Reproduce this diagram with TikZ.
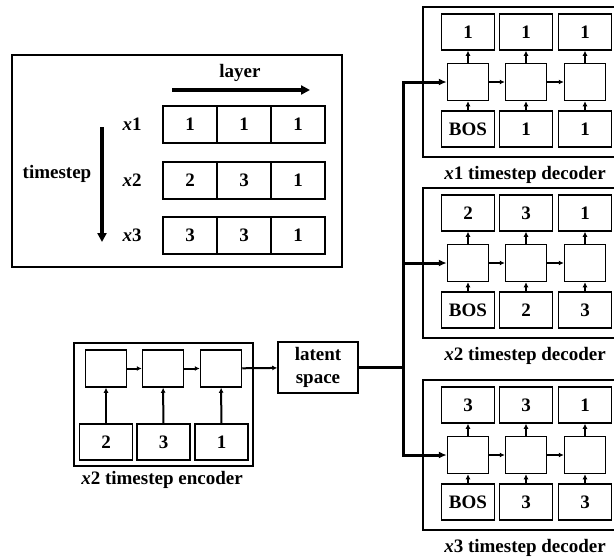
\documentclass[tikz,border=0pt]{standalone}
\usepackage{fontspec}
\setmainfont{Liberation Serif}
\usetikzlibrary{arrows.meta}

\begin{document}
\begin{tikzpicture}[x=1pt, y=-1pt,
  every node/.style={font=\fontsize{19}{23}\selectfont\bfseries},
  iobox/.style={draw, line width=1.5pt, minimum width=53pt, minimum height=36pt, inner sep=0pt},
  cell/.style={draw, line width=1.5pt, minimum width=41pt, minimum height=37pt, inner sep=0pt},
  gridbox/.style={draw, line width=1.5pt, minimum width=54pt, minimum height=37pt, inner sep=0pt},
  frame/.style={draw, line width=1.5pt},
  arr/.style={-{Latex[length=5pt, width=5pt]}, line width=2pt},
  bus/.style={line width=3pt},
  busarr/.style={bus, -{Latex[length=8pt, width=7pt]}},
  bigarr/.style={line width=3.2pt, -{Triangle[length=9pt, width=9pt]}}]
\useasboundingbox (0,0) rectangle (614,558);
\clip (0,0) rectangle (614,558);

% legend: layer / timestep table
\draw[line width=2.2pt] (12,55) rectangle (342,267);
\node (layer) at (240,73) {layer};
\coordinate (layerA) at (172,90);
\coordinate (layerB) at (310,90);
\draw[bigarr] (layerA) -- (layerB);
\node (timestep) at (57,174) {timestep};
\coordinate (timeA) at (102,127);
\coordinate (timeB) at (102,242);
\draw[bigarr] (timeA) -- (timeB);
\foreach \r/\y/\a/\b/\c in {1/124.5/1/1/1, 2/180.5/2/3/1, 3/235.5/3/3/1} {
  \node (x\r) at (132,\y) {\textit{x}\r};
  \node[gridbox] (g\r-1) at (190,\y) {\a};
  \node[gridbox] (g\r-2) at (244,\y) {\b};
  \node[gridbox] (g\r-3) at (298,\y) {\c};
}

% encoder
\draw[frame] (74,343) rectangle (253,466);
\node[cell] (enc1) at (106,368.5) {};
\node[cell] (enc2) at (163,368.5) {};
\node[cell] (enc3) at (221,368.5) {};
\node[iobox] (ein1) at (106,442) {2};
\node[iobox] (ein2) at (163.5,442) {3};
\node[iobox] (ein3) at (221.5,442) {1};
\draw[arr] (ein1) -- (enc1);
\draw[arr] (ein2) -- (enc2);
\draw[arr] (ein3) -- (enc3);
\draw[arr] (enc1) -- (enc2);
\draw[arr] (enc2) -- (enc3);
\node (enclabel) at (162,480) {\textit{x}2 timestep encoder};

% latent space
\node[draw, line width=1.5pt, minimum width=80pt, minimum height=51pt, inner sep=0pt, align=center] (latent) at (318,367.5) {latent\\space};
\draw[arr] (enc3) -- (latent);
\coordinate (split) at (403,367.5);
\draw[bus] (latent) -- (split);

% decoders
\foreach \k/\T/\oa/\ob/\oc/\ib/\ic in {1/7/1/1/1/1/1, 2/188/2/3/1/2/3, 3/380/3/3/1/3/3} {
  \draw[frame] (423,\T) rectangle (640,\T+150);
  \node[iobox] (out\k-1) at (468,\T+25) {\oa};
  \node[iobox] (out\k-2) at (526,\T+25) {\ob};
  \node[iobox] (out\k-3) at (585,\T+25) {\oc};
  \node[cell] (cell\k-1) at (468,\T+75) {};
  \node[cell] (cell\k-2) at (526,\T+75) {};
  \node[cell] (cell\k-3) at (585,\T+75) {};
  \node[iobox] (in\k-1) at (468,\T+122) {BOS};
  \node[iobox] (in\k-2) at (526,\T+122) {\ib};
  \node[iobox] (in\k-3) at (585,\T+122) {\ic};
  \draw[arr] (in\k-1) -- (cell\k-1);
  \draw[arr] (in\k-2) -- (cell\k-2);
  \draw[arr] (in\k-3) -- (cell\k-3);
  \draw[arr] (cell\k-1) -- (out\k-1);
  \draw[arr] (cell\k-2) -- (out\k-2);
  \draw[arr] (cell\k-3) -- (out\k-3);
  \draw[arr] (cell\k-1) -- (cell\k-2);
  \draw[arr] (cell\k-2) -- (cell\k-3);
  \draw[busarr] (split) |- (cell\k-1);
  \node (declabel\k) at (525,\T+168) {\textit{x}\k{} timestep decoder};
}
\end{tikzpicture}
\end{document}
